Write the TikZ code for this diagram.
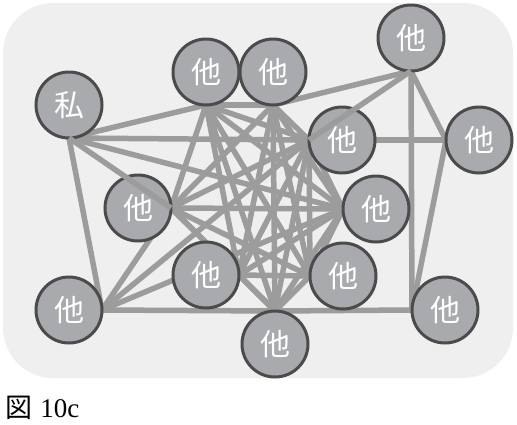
\documentclass[tikz,border=0pt]{standalone}
\usepackage{fontspec}
\newfontfamily\cjk{Noto Sans CJK JP}
\newfontfamily\capserif{Liberation Serif}
\pgfdeclarelayer{bglayer}
\pgfdeclarelayer{edgelayer}
\pgfdeclarelayer{toplayer}
\pgfsetlayers{bglayer,edgelayer,main,toplayer}
\definecolor{bgc}{HTML}{EFEFEF}
\definecolor{edgec}{HTML}{9C9C9C}
\definecolor{nodec}{HTML}{A8AAAD}
\definecolor{borderc}{HTML}{4B4B4B}
\tikzset{
  person/.style={circle, draw=borderc, fill=nodec, line width=3pt, minimum size=66pt,
    inner sep=0pt, outer sep=0pt, text=white, font=\cjk\fontsize{30}{30}\selectfont},
  link/.style={draw=edgec, line width=5.5pt}
}
\begin{document}
\begin{tikzpicture}[x=1pt,y=-1pt]
\useasboundingbox (0,0) rectangle (517,424);
\begin{pgfonlayer}{bglayer}
\fill[bgc, rounded corners=50pt] (3,3) rectangle (513,378);
\end{pgfonlayer}
% nodes
\node[person] (me) at (69,105) {私};
\node[person] (t1) at (206,72) {他};
\node[person] (t2) at (273,72) {他};
\node[person] (tr) at (411,38) {他};
\node[person] (rt) at (479,140) {他};
\node[person] (fu) at (342,140) {他};
\node[person] (gl) at (138,208) {他};
\node[person] (hm) at (376,209) {他};
\node[person] (il) at (206,275) {他};
\node[person] (jr) at (343,276) {他};
\node[person] (kb) at (69,310) {他};
\node[person] (lb) at (275,344) {他};
\node[person] (mb) at (445,310) {他};
% anchor points
\begin{pgfonlayer}{edgelayer}
\coordinate (A) at (me.south);
\coordinate (B) at (t1.south);
\coordinate (C) at (t2.south);
\coordinate (D) at (tr.south);
\coordinate (E) at (rt.west);
\coordinate (F) at (fu.west);
\coordinate (G) at (gl.east);
\coordinate (H) at (hm.west);
\coordinate (I) at (il.east);
\coordinate (J) at (jr.west);
\coordinate (K) at (kb.east);
\coordinate (L) at (lb.north);
\coordinate (M) at (mb.west);
% outer links
\foreach \u/\v in {A/B,A/F,A/H,A/K,K/G,K/F,K/H,K/L,L/M,D/C,D/E,D/M,E/F,E/M}
  \draw[link] (\u) -- (\v);
% dense inner cluster
\foreach \u/\v in {B/C,B/F,B/G,B/H,B/I,B/J,B/L,
                   C/F,C/G,C/H,C/I,C/J,C/L,
                   F/G,F/H,F/I,F/J,F/L,
                   G/H,G/I,G/J,G/L,
                   H/I,H/J,H/L,
                   I/J,I/L,
                   J/L}
  \draw[link] (\u) -- (\v);
\end{pgfonlayer}
\begin{pgfonlayer}{toplayer}
\draw[link] (A) -- (G);
\draw[link] (D) -- (F);
\end{pgfonlayer}
% caption
\node[anchor=west, inner sep=0pt] (cap) at (5,408)
  {\fontsize{27}{27}\selectfont{\cjk 図} \capserif 10c};
\end{tikzpicture}
\end{document}
